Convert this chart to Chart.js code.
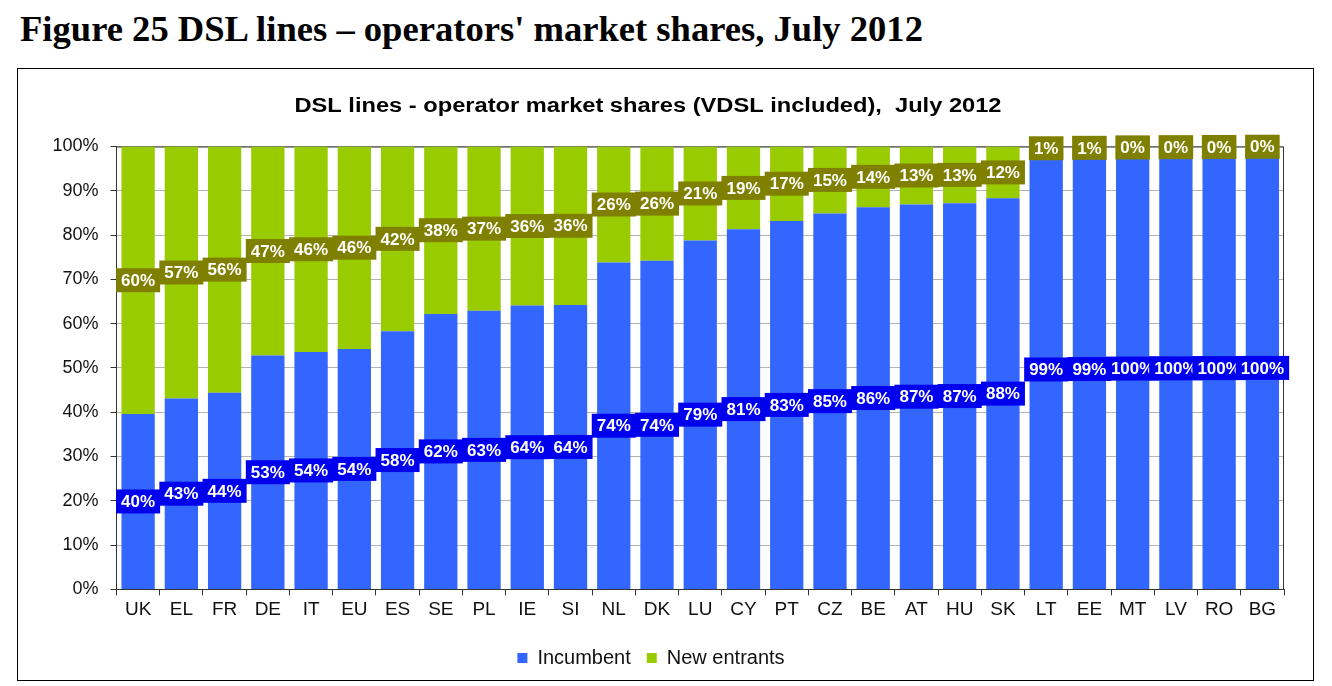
<!DOCTYPE html>
<html>
<head>
<meta charset="utf-8">
<script src="https://cdn.jsdelivr.net/npm/chart.js@4.4.1/dist/chart.umd.min.js"></script>
<style>
  html, body { margin: 0; padding: 0; background: #fff; width: 1332px; height: 686px; overflow: hidden; }
  #pageTitle {
    position: absolute; left: 20px; top: 9px;
    font-family: "Liberation Serif", "Times New Roman", serif;
    font-weight: bold; font-size: 36.6px; line-height: 40px; color: #000; white-space: nowrap;
  }
  #box {
    position: absolute; left: 17px; top: 68px; width: 1297px; height: 613px;
    box-sizing: border-box; border: 1.5px solid #000; background: #fff;
  }
  #wrap { position: absolute; left: 0; top: 0; right: 0; bottom: 0; }
</style>
</head>
<body>
<div id="pageTitle">Figure 25 DSL lines – operators' market shares, July 2012</div>
<div id="box"><div id="wrap"><canvas id="c"></canvas></div></div>
<script>
const chartTitle = "DSL lines - operator market shares (VDSL included),  July 2012";
const categories = ["UK","EL","FR","DE","IT","EU","ES","SE","PL","IE","SI","NL","DK","LU","CY","PT","CZ","BE","AT","HU","SK","LT","EE","MT","LV","RO","BG"];
const incumbent   = [39.6,43.1,44.4,52.8,53.6,54.3,58.3,62.2,62.9,64.1,64.2,73.8,74.2,78.8,81.3,83.2,84.9,86.3,86.9,87.2,88.3,99.2,99.4,99.6,99.7,99.8,99.9];
const newEntrants = [60.4,56.9,55.6,47.2,46.4,45.7,41.7,37.8,37.1,35.9,35.8,26.2,25.8,21.2,18.7,16.8,15.1,13.7,13.1,12.8,11.7,0.8,0.6,0.4,0.3,0.2,0.1];
const yTicks = [0,10,20,30,40,50,60,70,80,90,100];

const FONT = "'Liberation Sans', Arial, sans-serif";

const mainTitle = {
  id: 'mainTitle',
  afterDraw(chart) {
    const ctx = chart.ctx;
    ctx.save();
    ctx.font = "bold 19.5px " + FONT;
    ctx.fillStyle = '#000';
    ctx.textAlign = 'center';
    ctx.textBaseline = 'middle';
    const natural = ctx.measureText(chartTitle).width;
    const sx = 707 / natural;
    ctx.translate(630, 38);
    ctx.scale(sx, 1);
    ctx.fillText(chartTitle, 0, 0);
    ctx.restore();
  }
};

const frame = {
  id: 'frame',
  beforeDatasetsDraw(chart) {
    const a = chart.chartArea, ctx = chart.ctx;
    ctx.save();
    ctx.strokeStyle = '#333';
    ctx.lineWidth = 1;
    ctx.beginPath();
    ctx.moveTo(a.left, a.top + 0.5);
    ctx.lineTo(a.right - 0.5, a.top + 0.5);
    ctx.lineTo(a.right - 0.5, a.bottom);
    ctx.stroke();
    ctx.restore();
  }
};

const boxLabels = {
  id: 'boxLabels',
  afterDatasetsDraw(chart) {
    const ctx = chart.ctx;
    const fills = ['#0000EE', '#808000'];
    ctx.save();
    ctx.font = "bold 17px " + FONT;
    ctx.textAlign = 'center';
    ctx.textBaseline = 'middle';
    chart.data.datasets.forEach((ds, di) => {
      const meta = chart.getDatasetMeta(di);
      meta.data.forEach((el, i) => {
        const p = el.getProps(['x', 'y', 'base'], true);
        const cy = (p.y + p.base) / 2;
        const txt = Math.round(ds.data[i]) + '%';
        const w = ctx.measureText(txt).width + 10;
        const h = 24;
        ctx.fillStyle = fills[di];
        ctx.fillRect(p.x - w / 2, cy - h / 2, w, h);
        ctx.fillStyle = '#fff';
        ctx.fillText(txt, p.x, cy + 1);
      });
    });
    ctx.restore();
  }
};

new Chart(document.getElementById('c'), {
  type: 'bar',
  data: {
    labels: categories,
    datasets: [
      { label: 'Incumbent', data: incumbent, backgroundColor: '#3366FF', barPercentage: 0.77, categoryPercentage: 1 },
      { label: 'New entrants', data: newEntrants, backgroundColor: '#99CC00', barPercentage: 0.77, categoryPercentage: 1 }
    ]
  },
  options: {
    responsive: true,
    maintainAspectRatio: false,
    animation: false,
    layout: { padding: { left: 0, right: 29, top: 77.5, bottom: 2 } },
    plugins: {
      title: { display: false },
      legend: {
        position: 'bottom',
        labels: { color: '#111', font: { family: FONT, size: 20 }, boxWidth: 10, boxHeight: 10, padding: 16 }
      },
      tooltip: { enabled: false }
    },
    scales: {
      x: {
        stacked: true,
        afterFit(scale) { scale.height = 42.6; },
        grid: { display: true, offset: true, drawOnChartArea: false, drawTicks: true, tickLength: 6, color: '#333' },
        border: { display: true, color: '#333' },
        ticks: { color: '#111', font: { family: FONT, size: 19 }, padding: 3, maxRotation: 0, autoSkip: false }
      },
      y: {
        stacked: true, min: 0, max: 100,
        afterFit(scale) { scale.width = 98.5; },
        afterBuildTicks(scale) { scale.ticks = yTicks.map(v => ({ value: v })); },
        grid: { color: '#b4b4b4', tickColor: '#333', tickLength: 6 },
        border: { display: true, color: '#333' },
        ticks: { color: '#111', font: { family: FONT, size: 18 }, padding: 12, callback: v => v + '%' }
      }
    }
  },
  plugins: [frame, boxLabels, mainTitle]
});
</script>
</body>
</html>
